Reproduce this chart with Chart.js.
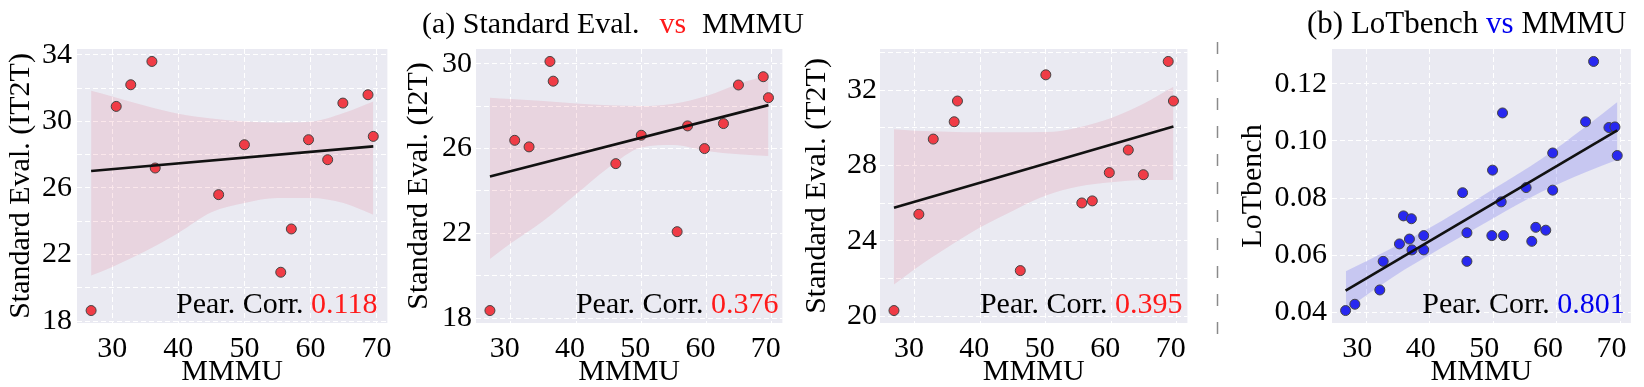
<!DOCTYPE html>
<html>
<head>
<meta charset="utf-8">
<script src="https://cdn.jsdelivr.net/npm/chart.js@4.4.1/dist/chart.umd.min.js"></script>
<style>
  html, body { margin: 0; padding: 0; background: #fff; }
  body { width: 1644px; height: 387px; position: relative; overflow: hidden;
         font-family: 'Liberation Serif', 'Times New Roman', serif; }
  canvas { position: absolute; top: 0; }
  .title { position: absolute; top: 8px; font-size: 30px; line-height: 30px; white-space: pre; color: #000; z-index: 2; }
  .red { color: #ff1a1a; }
  .blue { color: #0000ee; }
  #sep { position: absolute; left: 1207px; top: 0; }
</style>
</head>
<body>
<div class="title" style="left:422px">(a) Standard Eval.<span class="red" style="margin-left:20px">vs</span><span style="margin-left:16px">MMMU</span></div>
<div class="title" style="left:1307px;font-size:31px">(b) LoTbench <span class="blue">vs</span> MMMU</div>
<svg id="sep" width="20" height="387"><line x1="10.5" y1="42" x2="10.5" y2="340" stroke="#8a8a8a" stroke-width="1.5" stroke-dasharray="12 16"/></svg>

<canvas id="c1" width="400" height="387" style="left:0px"></canvas>
<canvas id="c2" width="400" height="387" style="left:395px"></canvas>
<canvas id="c3" width="405" height="387" style="left:795px"></canvas>
<canvas id="c4" width="419" height="387" style="left:1225px"></canvas>

<script>
// MMMU scores of the 14 models shared by panels (a)
var mmmu = [26.8, 30.6, 32.8, 36.0, 36.5, 46.1, 50.0, 55.5, 57.1, 59.7, 62.6, 64.9, 68.7, 69.5];
var it2t = [18.64, 30.9, 32.2, 33.6, 27.2, 25.6, 28.6, 20.94, 23.54, 28.9, 27.7, 31.1, 31.6, 29.1];
var i2t  = [18.36, 26.39, 26.08, 30.11, 29.18, 25.29, 26.63, 22.08, 27.07, 26.0, 27.18, 29.0, 29.39, 28.4];
var t2t  = [20.3, 25.41, 29.4, 30.32, 31.42, 22.42, 32.81, 26.01, 26.12, 27.62, 28.82, 27.51, 33.52, 31.42];

// panel (b): 30 models
var lotX = [26.76, 28.22, 32.14, 32.67, 35.23, 35.86, 37.11, 36.8, 37.2, 39.05, 39.05, 45.16, 45.84, 45.84, 49.87,
            49.76, 51.23, 51.44, 51.6, 55.15, 56.04, 56.67, 58.24, 59.33, 59.33, 64.5, 65.76, 68.17, 69.11, 69.48];
var lotY = [0.0407, 0.0429, 0.0479, 0.0579, 0.064, 0.0738, 0.0728, 0.0657, 0.0619, 0.0669, 0.0619, 0.0819, 0.0679, 0.0579, 0.0898,
            0.0669, 0.0787, 0.1098, 0.0669, 0.0837, 0.0649, 0.0698, 0.0688, 0.0958, 0.0828, 0.1067, 0.1278, 0.1047, 0.1049, 0.0949];

// regression lines (end points) and confidence bands
var fitX = [26.8, 69.5];
var it2tFit = [27.02, 28.5];
var i2tFit = [24.68, 28.05];
var t2tFit = [25.75, 30.07];
var lotFitX = [26.76, 69.48];
var lotFit = [0.0477, 0.1037];

var bandX  = [26.8, 30, 35, 40, 45, 50, 55, 60, 65, 69.5];
var it2tHi = [31.84, 31.5, 30.94, 30.46, 30.18, 30.0, 29.94, 29.98, 30.5, 31.2];
var it2tLo = [20.74, 21.26, 22.2, 23.3, 24.54, 25.1, 25.4, 25.4, 25.1, 24.4];
var i2tHi  = [28.4, 28.34, 28.24, 28.13, 28.04, 28.01, 28.12, 28.48, 29.06, 29.47];
var i2tLo  = [20.79, 21.53, 22.6, 23.85, 25.11, 26.05, 26.17, 25.89, 25.73, 25.65];
var t2tHi  = [29.92, 29.84, 29.79, 29.76, 29.76, 29.77, 30.02, 30.52, 31.29, 32.18];
var t2tLo  = [21.68, 22.51, 23.66, 24.72, 25.6, 26.4, 26.88, 27.11, 27.23, 27.23];
var lotBandX = [26.8, 34, 42, 50, 57.6, 64.4, 69.5];
var lotHi  = [0.0544, 0.0625, 0.0722, 0.0832, 0.0938, 0.1048, 0.1136];
var lotLo  = [0.041, 0.0521, 0.0628, 0.073, 0.0822, 0.089, 0.0934];

var corr = ['0.118', '0.376', '0.395', '0.801'];

var SERIF = "'Liberation Serif', 'Times New Roman', serif";
Chart.defaults.font.family = SERIF;
Chart.defaults.color = '#000';

var plotBg = {
  id: 'plotBg',
  beforeDraw: function (chart) {
    var a = chart.chartArea, ctx = chart.ctx;
    ctx.save();
    ctx.fillStyle = '#eaeaf2';
    ctx.fillRect(a.left, a.top, a.right - a.left, a.bottom - a.top);
    ctx.restore();
  }
};

var corrText = {
  id: 'corrText',
  afterDraw: function (chart, args, opts) {
    var a = chart.chartArea, ctx = chart.ctx;
    ctx.save();
    ctx.font = '30px ' + SERIF;
    ctx.textBaseline = 'alphabetic';
    ctx.textAlign = 'left';
    var lead = 'Pear. Corr. ';
    var w1 = ctx.measureText(lead).width, w2 = ctx.measureText(opts.value).width;
    var x = a.right - opts.right - w1 - w2, y = a.bottom - 10.5;
    ctx.fillStyle = '#000';
    ctx.fillText(lead, x, y);
    ctx.fillStyle = opts.color;
    ctx.fillText(opts.value, x + w1, y);
    ctx.restore();
  }
};

function pts(xs, ys) {
  return xs.map(function (x, i) { return {x: x, y: ys[i]}; });
}

// matplotlib-like 5% margins
function range(v) {
  var lo = Math.min.apply(null, v), hi = Math.max.apply(null, v), m = (hi - lo) * 0.05;
  return [lo - m, hi + m];
}

function makePanel(id, p) {
  var xr = range(p.xs), yr = range(p.ys);
  return new Chart(document.getElementById(id), {
    type: 'scatter',
    data: {
      datasets: [
        { type: 'line', data: pts(p.bandX, p.hi), fill: '+1', backgroundColor: p.band,
          borderColor: 'rgba(0,0,0,0)', borderWidth: 0, pointRadius: 0, cubicInterpolationMode: 'monotone', order: 3 },
        { type: 'line', data: pts(p.bandX, p.lo), fill: false,
          borderColor: 'rgba(0,0,0,0)', borderWidth: 0, pointRadius: 0, cubicInterpolationMode: 'monotone', order: 3 },
        { type: 'line', data: pts(p.fitX, p.fitY), borderColor: '#111', borderWidth: 2.6, pointRadius: 0, fill: false, order: 0 },
        { data: pts(p.xs, p.ys), backgroundColor: p.dot, borderColor: '#444', borderWidth: 1, pointRadius: 5, order: 1 }
      ]
    },
    options: {
      responsive: false,
      animation: false,
      events: [],
      layout: { padding: { top: 49, right: p.right, bottom: 0, left: 0 } },
      plugins: {
        legend: { display: false },
        tooltip: { enabled: false },
        corrText: { value: p.corr, color: p.corrColor, right: p.corrRight }
      },
      scales: {
        x: {
          min: xr[0], max: xr[1],
          afterFit: function (s) { s.height = 64; },
          grid: { color: '#ffffff', lineWidth: 1, drawTicks: false },
          border: { display: false, dash: [5, 3] },
          ticks: { stepSize: 10, includeBounds: false, autoSkip: false, maxRotation: 0, padding: 8,
                   labelOffset: p.xLabelShift, font: { size: 30 } },
          title: { display: true, text: 'MMMU', font: { size: 30, lineHeight: 1 }, padding: 0 }
        },
        y: {
          min: yr[0], max: yr[1],
          afterFit: function (s) { s.width = p.yw; },
          grid: { color: '#ffffff', lineWidth: 1, drawTicks: false },
          border: { display: false, dash: [5, 3] },
          ticks: { stepSize: p.yStep, includeBounds: false, autoSkip: false, padding: p.yTickPad, font: { size: 30 },
                   callback: p.yLabel },
          title: { display: true, text: p.yTitle, font: { size: 30, lineHeight: 1 }, padding: { top: p.yTitlePad, bottom: 0 } }
        }
      }
    },
    plugins: [plotBg, corrText]
  });
}

function every4(base) {
  return function (v) { return Math.round(v - base) % 4 === 0 ? String(Math.round(v)) : ''; };
}

var redDot = '#f03c46', redBand = 'rgba(220,20,60,0.1)';

function drawAll() {
  makePanel('c1', { xs: mmmu, ys: it2t, fitX: fitX, fitY: it2tFit, bandX: bandX, hi: it2tHi, lo: it2tLo,
    dot: redDot, band: redBand, yTitle: 'Standard Eval. (IT2T)', yTitlePad: 6, yTickPad: 5, yw: 77, right: 12,
    yStep: 2, yLabel: every4(18), xLabelShift: 0, corr: corr[0], corrColor: '#ff1a1a', corrRight: 10 });

  makePanel('c2', { xs: mmmu, ys: i2t, fitX: fitX, fitY: i2tFit, bandX: bandX, hi: i2tHi, lo: i2tLo,
    dot: redDot, band: redBand, yTitle: 'Standard Eval. (I2T)', yTitlePad: 9, yTickPad: 4, yw: 81, right: 8,
    yStep: 2, yLabel: every4(18), xLabelShift: -6, corr: corr[1], corrColor: '#ff1a1a', corrRight: 4 });

  makePanel('c3', { xs: mmmu, ys: t2t, fitX: fitX, fitY: t2tFit, bandX: bandX, hi: t2tHi, lo: t2tLo,
    dot: redDot, band: redBand, yTitle: 'Standard Eval. (T2T)', yTitlePad: 7, yTickPad: 3, yw: 85, right: 8,
    yStep: 2, yLabel: every4(20), xLabelShift: -6, corr: corr[2], corrColor: '#ff1a1a', corrRight: 5 });

  makePanel('c4', { xs: lotX, ys: lotY, fitX: lotFitX, fitY: lotFit, bandX: lotBandX, hi: lotHi, lo: lotLo,
    dot: '#2828f0', band: 'rgba(30,30,240,0.17)', yTitle: 'LoTbench', yTitlePad: 13, yTickPad: 5, yw: 107, right: 13,
    yStep: 0.02, yLabel: function (v) { return v.toFixed(2); }, xLabelShift: -9, corr: corr[3], corrColor: '#0000ee', corrRight: 6 });
}

if (document.fonts && document.fonts.load) {
  document.fonts.load("30px 'Liberation Serif'").then(drawAll, drawAll);
} else {
  drawAll();
}
</script>
</body>
</html>
